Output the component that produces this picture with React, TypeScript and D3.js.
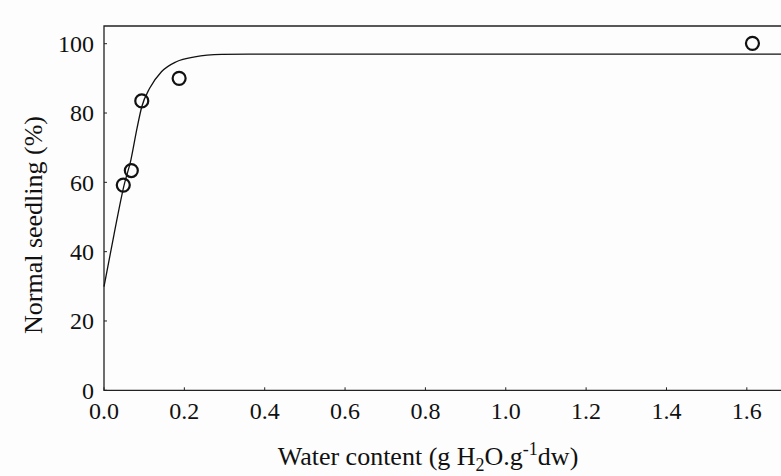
import React, { useEffect, useRef } from "react";
import * as d3 from "d3";

// observed points (water content, normal seedling %)
const waterContent = [0.048, 0.068, 0.094, 0.187, 1.614];
const seedling = [59.2, 63.4, 83.5, 90.0, 100.1];

// fitted curve
const fitX = [0, 0.025, 0.05, 0.067, 0.082, 0.094, 0.114, 0.143, 0.18, 0.226, 0.293, 0.36, 0.6, 1.0, 1.4, 1.7];
const fitY = [29.9, 45, 59.2, 66.5, 75.5, 81.8, 87.2, 91.9, 94.8, 96.2, 96.9, 97.0, 97.0, 97.0, 97.0, 97.0];

const xTicks = [0, 0.2, 0.4, 0.6, 0.8, 1.0, 1.2, 1.4, 1.6];
const yTicks = [0, 20, 40, 60, 80, 100];

const W = 781;
const H = 476;

const App = () => {
  const ref = useRef<SVGSVGElement | null>(null);

  useEffect(() => {
    document.body.style.margin = "0";
    const svg = d3.select(ref.current);
    svg.selectAll("*").remove();

    const font = "'Liberation Serif', 'Times New Roman', serif";
    const left = 104, top = 26, bottom = 390.3;

    const x = d3.scaleLinear().domain([0, 1.7]).range([left, 787]);
    const y = d3.scaleLinear().domain([0, 100]).range([bottom, 43.7]);

    svg.append("rect").attr("width", W).attr("height", H).attr("fill", "#fdfdfd");

    // frame
    svg.append("path")
      .attr("d", `M${x(1.7)},${top}H${left}V${bottom}H${x(1.7)}`)
      .attr("fill", "none")
      .attr("stroke", "#222")
      .attr("stroke-width", 1.3);

    // ticks (pointing inward)
    svg.append("g")
      .selectAll("line")
      .data(xTicks)
      .enter()
      .append("line")
      .attr("x1", (d) => x(d)).attr("x2", (d) => x(d))
      .attr("y1", bottom).attr("y2", bottom - 3)
      .attr("stroke", "#222");
    svg.append("g")
      .selectAll("line")
      .data(yTicks)
      .enter()
      .append("line")
      .attr("x1", left).attr("x2", left + 3)
      .attr("y1", (d) => y(d)).attr("y2", (d) => y(d))
      .attr("stroke", "#222");

    // tick labels
    svg.append("g")
      .selectAll("text")
      .data(xTicks)
      .enter()
      .append("text")
      .attr("x", (d) => x(d))
      .attr("y", 419)
      .attr("text-anchor", "middle")
      .style("font-family", font)
      .style("font-size", "24px")
      .attr("fill", "#111")
      .text((d) => d3.format(".1f")(d));
    svg.append("g")
      .selectAll("text")
      .data(yTicks)
      .enter()
      .append("text")
      .attr("x", 94)
      .attr("y", (d) => y(d))
      .attr("dy", "0.35em")
      .attr("text-anchor", "end")
      .style("font-family", font)
      .style("font-size", "24px")
      .attr("fill", "#111")
      .text((d) => d);

    // axis titles
    const xt = svg.append("text")
      .attr("x", 428)
      .attr("y", 465)
      .attr("text-anchor", "middle")
      .style("font-family", font)
      .style("font-size", "26px")
      .attr("fill", "#111");
    xt.append("tspan").text("Water content (g H");
    xt.append("tspan").attr("dy", 6).style("font-size", "18px").text("2");
    xt.append("tspan").attr("dy", -6).text("O.g");
    xt.append("tspan").attr("dy", -10).style("font-size", "18px").text("-1");
    xt.append("tspan").attr("dy", 10).text("dw)");

    svg.append("text")
      .attr("transform", "translate(42,225) rotate(-90)")
      .attr("text-anchor", "middle")
      .style("font-family", font)
      .style("font-size", "26px")
      .attr("fill", "#111")
      .text("Normal seedling (%)");

    // fitted curve
    const line = d3.line<number>()
      .x((d) => x(d))
      .y((d, i) => y(fitY[i]))
      .curve(d3.curveMonotoneX);
    svg.append("path")
      .attr("d", line(fitX))
      .attr("fill", "none")
      .attr("stroke", "#111")
      .attr("stroke-width", 1.3);

    // points
    svg.append("g")
      .selectAll("circle")
      .data(waterContent)
      .enter()
      .append("circle")
      .attr("cx", (d) => x(d))
      .attr("cy", (d, i) => y(seedling[i]))
      .attr("r", 6.5)
      .attr("fill", "none")
      .attr("stroke", "#111")
      .attr("stroke-width", 2.2);
  }, []);

  return <svg ref={ref} width={W} height={H} style={{ display: "block" }} />;
};

export default App;
